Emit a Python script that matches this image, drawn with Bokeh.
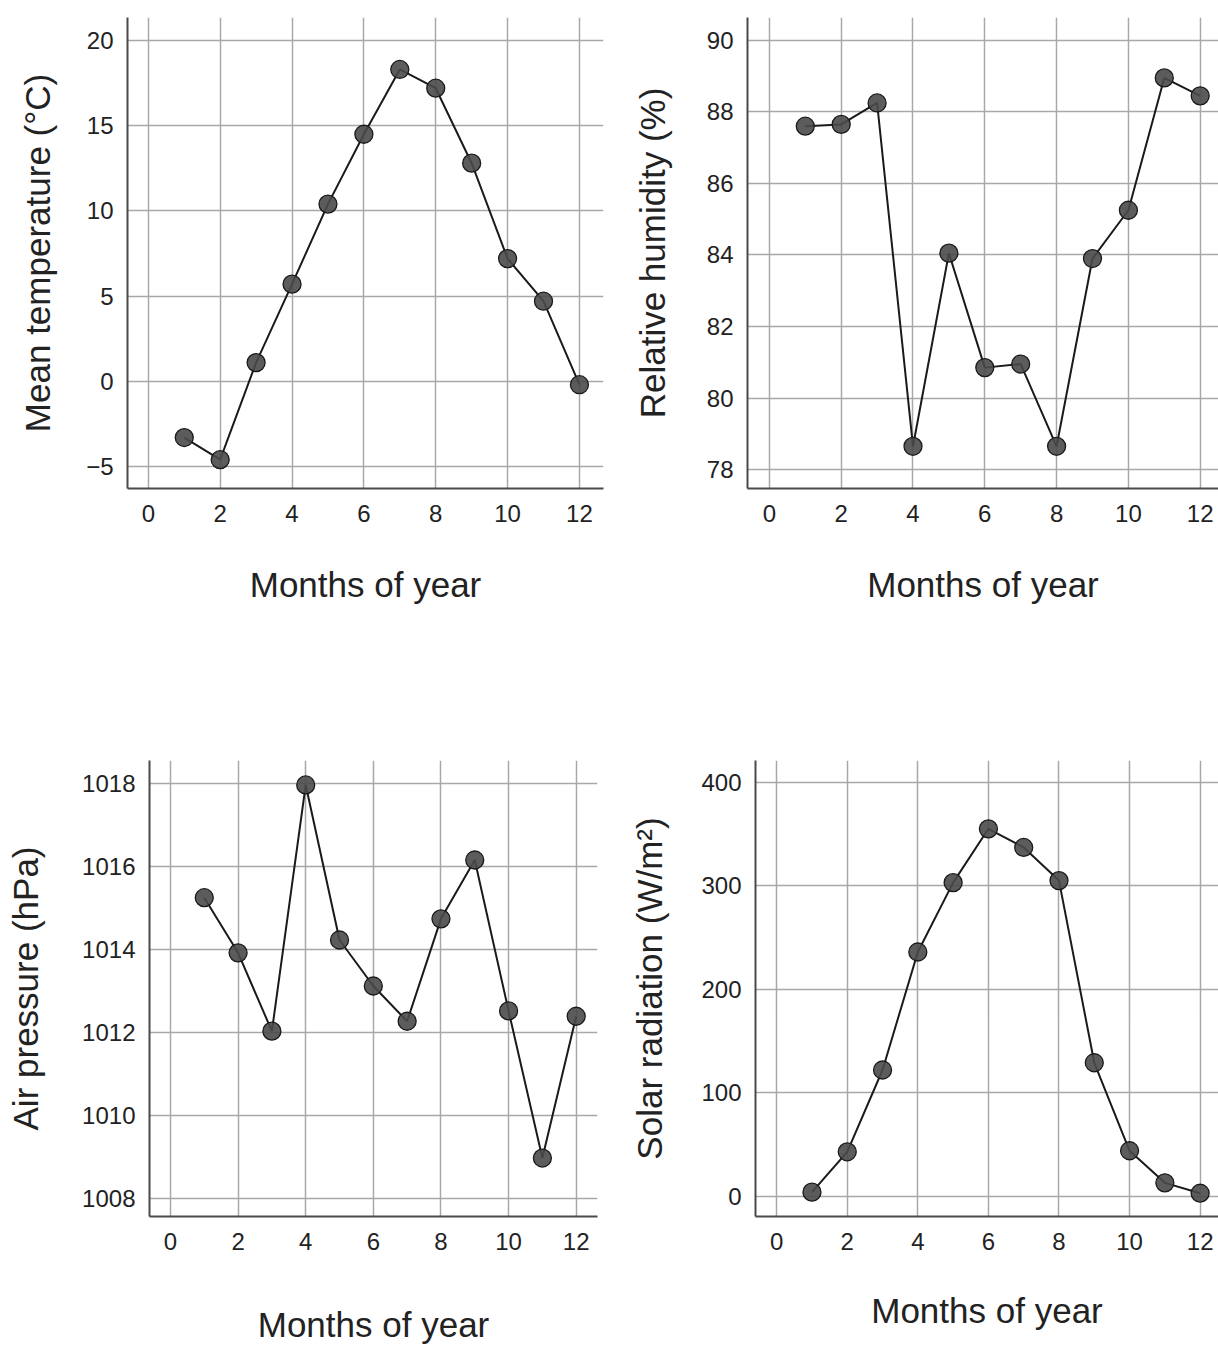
from bokeh.plotting import figure
from bokeh.layouts import column, row
from bokeh.models import Range1d, FixedTicker
from bokeh.embed import file_html
from bokeh.resources import INLINE

# ---- data ----
months = [1, 2, 3, 4, 5, 6, 7, 8, 9, 10, 11, 12]
x_ticks = [0, 2, 4, 6, 8, 10, 12]
x_title = "Months of year"

temperature = [-3.3, -4.6, 1.1, 5.7, 10.4, 14.5, 18.3, 17.2, 12.8, 7.2, 4.7, -0.2]
temp_ticks = [-5, 0, 5, 10, 15, 20]

humidity = [87.6, 87.65, 88.25, 78.65, 84.05, 80.85, 80.95, 78.65, 83.9, 85.25, 88.95, 88.45]
hum_ticks = [78, 80, 82, 84, 86, 88, 90]

pressure = [1015.25, 1013.92, 1012.03, 1017.97, 1014.23, 1013.12, 1012.27, 1014.74, 1016.16, 1012.52, 1008.97, 1012.39]
pres_ticks = [1008, 1010, 1012, 1014, 1016, 1018]

radiation = [4, 43, 122, 236, 303, 355, 337, 305, 129, 44, 13, 3]
rad_ticks = [0, 100, 200, 300, 400]

FONT = "Liberation Sans"
TEXT = "#222222"


def panel(x, y, xr, yr, yticks, ylabel, width, height, bl, bt, fw, fh,
          ylab_standoff, xlab_standoff):
    p = figure(width=width, height=height, output_backend="svg", toolbar_location=None,
               x_range=Range1d(*xr), y_range=Range1d(*yr),
               min_border_left=bl, min_border_top=bt,
               min_border_right=width - bl - fw, min_border_bottom=height - bt - fh)
    p.outline_line_color = None
    p.background_fill_color = "white"
    p.border_fill_color = "white"
    for ax, ticks in ((p.xaxis[0], x_ticks), (p.yaxis[0], yticks)):
        ax.ticker = FixedTicker(ticks=ticks)
        ax.major_tick_line_color = None
        ax.minor_tick_line_color = None
        ax.major_tick_out = 0
        ax.major_tick_in = 0
        ax.axis_line_color = "#4a4a4a"
        ax.axis_line_width = 2
        ax.major_label_text_font = FONT
        ax.major_label_text_font_size = "24px"
        ax.major_label_text_color = TEXT
        ax.axis_label_text_font = FONT
        ax.axis_label_text_font_size = "35px"
        ax.axis_label_text_font_style = "normal"
        ax.axis_label_text_color = TEXT
    p.xaxis.axis_label = x_title
    p.yaxis.axis_label = ylabel
    p.xaxis.major_label_standoff = 16
    p.xaxis.axis_label_standoff = xlab_standoff
    p.yaxis.major_label_standoff = 14
    p.yaxis.axis_label_standoff = ylab_standoff
    for g in (p.xgrid[0], p.ygrid[0]):
        g.grid_line_color = "#a8a8a8"
        g.grid_line_width = 1.5
    p.xgrid.ticker = FixedTicker(ticks=x_ticks)
    p.ygrid.ticker = FixedTicker(ticks=yticks)
    p.line(x, y, line_color="#1a1a1a", line_width=2)
    p.scatter(x, y, size=18, fill_color="#4a4a4a", fill_alpha=0.9,
              line_color="#1a1a1a", line_width=1.3)
    return p


p1 = panel(months, temperature, (-0.58, 12.67), (-6.29, 21.35), temp_ticks,
           "Mean temperature (°C)", 620, 700, 127, 17, 476, 471, 26, 40)
p2 = panel(months, humidity, (-0.61, 12.51), (77.47, 90.64), hum_ticks,
           "Relative humidity (%)", 598, 700, 127, 17, 471, 471, 32, 40)
p3 = panel(months, pressure, (-0.62, 12.63), (1007.56, 1018.56), pres_ticks,
           "Air pressure (hPa)", 620, 647, 149, 60, 448, 472, 34, 52)
p4 = panel(months, radiation, (-0.6, 12.52), (-19.5, 421), rad_ticks,
           "Solar radiation (W/m²)", 598, 647, 135, 42, 463, 474, 29, 38)

layout = column(row(p1, p2, spacing=0), row(p3, p4, spacing=0), spacing=0)

open("out.html", "w").write(file_html(layout, INLINE))
